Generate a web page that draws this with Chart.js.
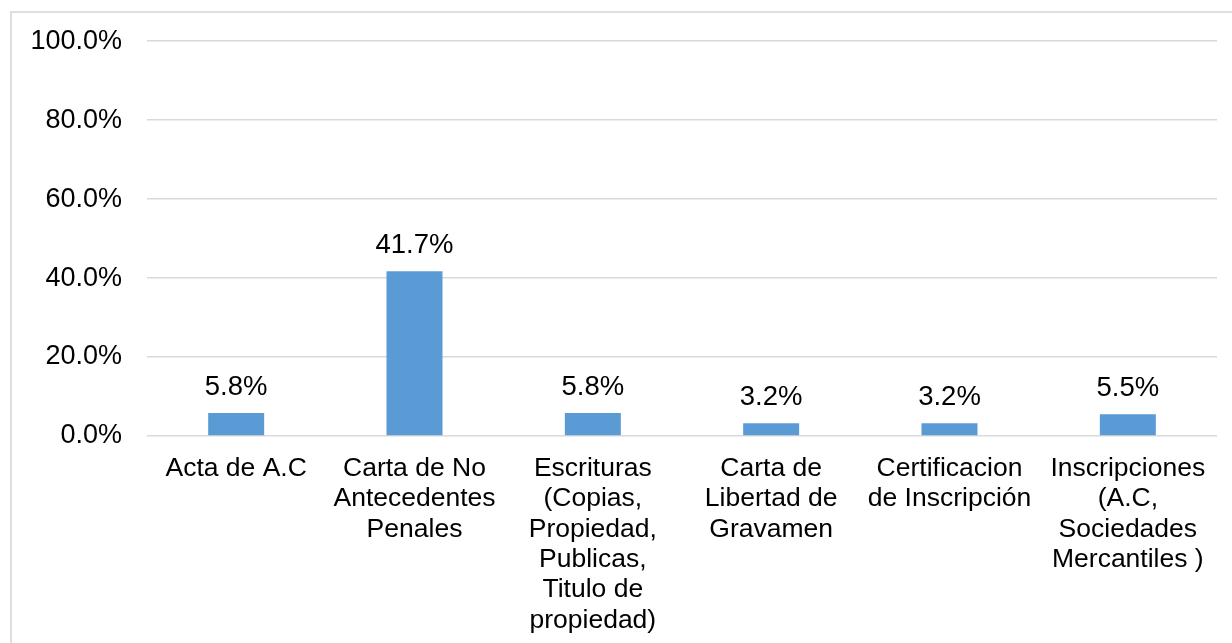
<!DOCTYPE html>
<html>
<head>
<meta charset="utf-8">
<script src="https://cdn.jsdelivr.net/npm/chart.js@4.4.1/dist/chart.umd.min.js"></script>
<style>
  html, body { margin: 0; padding: 0; background: #fff; overflow: hidden; }
  #frame {
    position: absolute; left: 10px; top: 11px;
    width: 1300px; height: 700px;
    border-left: 2px solid #dedede; border-top: 2px solid #dedede;
  }
  #wrap { position: absolute; left: 0; top: 0; width: 1232px; height: 643px; }
</style>
</head>
<body>
<div id="frame"></div>
<div id="wrap"><canvas id="barChart"></canvas></div>
<script>
// categories (split in lines as they wrap in the picture)
const categories = [
    'Acta de A.C',
    ['Carta de No', 'Antecedentes', 'Penales'],
    ['Escrituras', '(Copias,', 'Propiedad,', 'Publicas,', 'Titulo de', 'propiedad)'],
    ['Carta de', 'Libertad de', 'Gravamen'],
    ['Certificacion', 'de Inscripción'],
    ['Inscripciones', '(A.C,', 'Sociedades', 'Mercantiles )']
];
// percentages
const values = [5.8, 41.7, 5.8, 3.2, 3.2, 5.5];
const yTicks = [0, 20, 40, 60, 80, 100];

const FONT = 'Liberation Sans, Arial, sans-serif';

// value labels above the bars
const barLabels = {
    id: 'barLabels',
    afterDatasetsDraw(chart) {
        const ctx = chart.ctx;
        const meta = chart.getDatasetMeta(0);
        ctx.save();
        ctx.font = '27.5px ' + FONT;
        ctx.fillStyle = '#000';
        ctx.textAlign = 'center';
        ctx.textBaseline = 'alphabetic';
        meta.data.forEach((bar, i) => {
            ctx.fillText(values[i].toFixed(1) + '%', bar.x, bar.y - 18);
        });
        ctx.restore();
    }
};

const ctx = document.getElementById('barChart').getContext('2d');
new Chart(ctx, {
    type: 'bar',
    data: {
        labels: categories,
        datasets: [{
            data: values,
            backgroundColor: '#5B9BD5',
            borderWidth: 0,
            categoryPercentage: 1,
            barPercentage: 0.314
        }]
    },
    options: {
        responsive: true,
        maintainAspectRatio: false,
        animation: false,
        events: [],
        layout: { padding: { left: 0, top: 41, right: 15, bottom: 0 } },
        plugins: {
            legend: { display: false },
            tooltip: { enabled: false }
        },
        scales: {
            y: {
                min: 0,
                max: 100,
                afterFit: scale => { scale.width = 147; },
                afterBuildTicks: scale => { scale.ticks = yTicks.map(v => ({ value: v })); },
                border: { display: false },
                grid: { color: '#d9d9d9', lineWidth: 1.5, drawTicks: false },
                ticks: {
                    padding: 25,
                    color: '#000',
                    font: { family: FONT, size: 27 },
                    callback: v => v.toFixed(1) + '%'
                }
            },
            x: {
                afterFit: scale => { scale.height = 207; },
                border: { display: false },
                grid: { display: false, drawTicks: false },
                ticks: {
                    padding: 17,
                    maxRotation: 0,
                    autoSkip: false,
                    color: '#000',
                    font: { family: FONT, size: 26.5, lineHeight: 1.15 }
                }
            }
        }
    },
    plugins: [barLabels]
});
</script>
</body>
</html>
